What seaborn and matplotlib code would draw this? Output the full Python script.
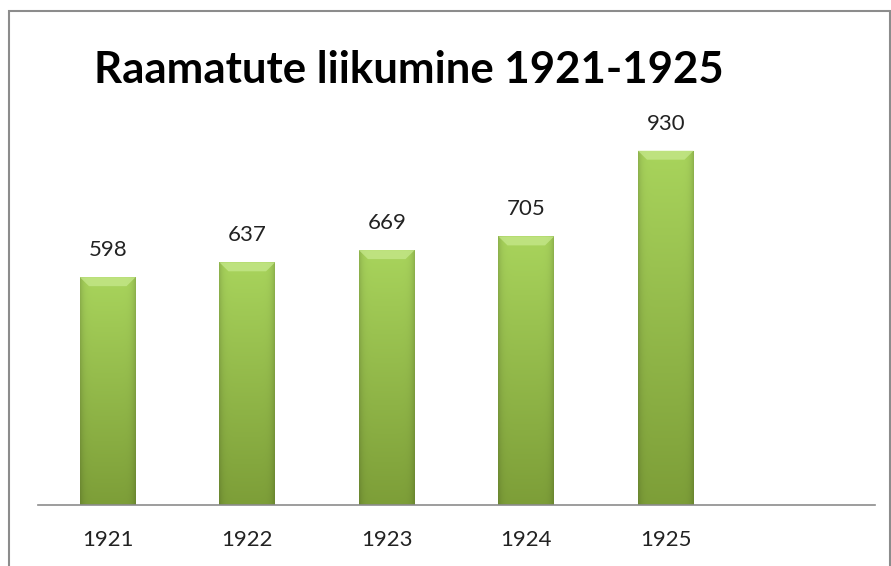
import numpy as np
import pandas as pd
import matplotlib
matplotlib.use("Agg")
import matplotlib.pyplot as plt
import matplotlib.patches as mpatches
import seaborn as sns

# Data
years = ["1921", "1922", "1923", "1924", "1925"]
books = [598, 637, 669, 705, 930]
title = "Raamatute liikumine 1921-1925"

df = pd.DataFrame({"Year": years, "Books": books})

sns.set_theme(style="white")
plt.rcParams['font.family'] = ['Lato', 'DejaVu Sans']

fig = plt.figure(figsize=(8.91, 5.66), dpi=100)
ax = fig.add_axes([38 / 891, 61 / 566, 837 / 891, 381 / 566])

sns.barplot(data=df, x="Year", y="Books", color="#95c047", width=0.4, ax=ax)
ax.set_xlim(-0.5, 5.5)
ax.set_ylim(0, 1000)

# Gradient fill on each bar, clipped to the bar patch
h = np.linspace(0, 1, 100)[:, None]
w = np.linspace(-1, 1, 60)[None, :]
top = np.array([0.66, 0.83, 0.36])
bot = np.array([0.49, 0.62, 0.22])
grad = top[None, None, :] * (1 - h[..., None]) + bot[None, None, :] * h[..., None]
edge = 1 - 0.15 * (np.abs(w) ** 8)[..., None]
img = np.clip(grad * edge, 0, 1)

bevel_px = 9
for bar, val in zip(ax.patches, books):
    x0, y0 = bar.get_x(), bar.get_y()
    bw, bh = bar.get_width(), bar.get_height()
    z = bar.get_zorder()
    im = ax.imshow(img, extent=[x0, x0 + bw, y0, y0 + bh], aspect="auto",
                   origin="upper", zorder=z + 0.1)
    im.set_clip_path(bar)
    # light bevel trapezoid at the top
    dx = bw * bevel_px / 55
    dy = 1000 * bevel_px / 381
    yt = y0 + bh
    bevel = mpatches.Polygon([[x0, yt], [x0 + bw, yt], [x0 + bw - dx, yt - dy], [x0 + dx, yt - dy]],
                             closed=True, color="#c6e88c", alpha=0.75, lw=0, zorder=z + 0.2)
    ax.add_patch(bevel)
    ax.text(x0 + bw / 2, yt + 45, str(val), ha="center", va="bottom",
            fontsize=16, color="#222222")

ax.set_xlabel("")
ax.set_ylabel("")
ax.set_yticks([])
ax.tick_params(axis="x", length=0, labelsize=16, colors="#222222", pad=18)
for s in ["top", "left", "right"]:
    ax.spines[s].set_visible(False)
ax.spines["bottom"].set_color("#8c8c8c")
ax.spines["bottom"].set_linewidth(1.2)

fig.text(409 / 891, 1 - 70 / 566, title, ha="center", va="center",
         fontsize=31.5, fontweight="bold", color="black")

# outer frame
frame = mpatches.Rectangle((9 / 891, -0.05), 881 / 891, 1 - 11 / 566 + 0.05,
                           transform=fig.transFigure, fill=False,
                           edgecolor="#8c8c8c", lw=1.5)
fig.patches.append(frame)

fig.savefig("out.png", dpi=100)
